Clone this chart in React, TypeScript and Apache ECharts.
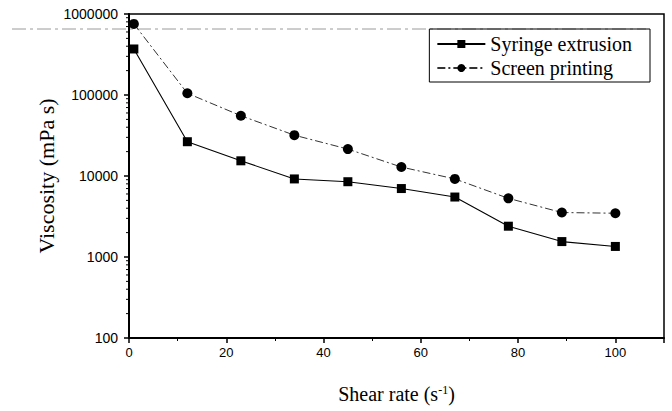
import React, { useEffect, useRef } from "react";
import * as echarts from "echarts";

const shearRate = [1, 12, 23, 34, 45, 56, 67, 78, 89, 100];
const syringeExtrusion = [370000, 26500, 15400, 9200, 8500, 7000, 5500, 2400, 1550, 1350];
const screenPrinting = [755000, 105000, 55500, 31900, 21500, 12900, 9200, 5300, 3540, 3470];
const yMinorTicks = [
  200, 300, 400, 500, 600, 700, 800, 900,
  2000, 3000, 4000, 5000, 6000, 7000, 8000, 9000,
  20000, 30000, 40000, 50000, 60000, 70000, 80000, 90000,
  200000, 300000, 400000, 500000, 600000, 700000, 800000, 900000,
];
const seriesNames = ["Syringe extrusion", "Screen printing"];

export default function App() {
  const ref = useRef<HTMLDivElement>(null);
  useEffect(() => {
    if (!ref.current) return;
    const chart = echarts.init(ref.current, null, { renderer: "svg" });
    const serif = "'Liberation Serif', serif";
    const sans = "'Liberation Sans', Arial, sans-serif";
    chart.setOption({
      animation: false,
      backgroundColor: "#fff",
      textStyle: { fontFamily: serif, color: "#000" },
      grid: {
        left: 129,
        right: 8,
        top: 14,
        bottom: 69,
        show: true,
        borderColor: "#000",
        borderWidth: 1.5,
      },
      legend: {
        data: seriesNames,
        right: 22,
        top: 29,
        orient: "vertical",
        itemWidth: 48,
        itemHeight: 10,
        itemGap: 4,
        padding: [5, 18, 4, 7],
        borderColor: "#000",
        borderWidth: 1,
        textStyle: { fontFamily: serif, fontSize: 20, color: "#000" },
      },
      xAxis: {
        type: "value",
        min: 0,
        max: 110,
        interval: 20,
        name: "Shear rate (s{sup|-1})",
        nameLocation: "middle",
        nameGap: 46,
        nameMoveOverlap: false,
        nameTextStyle: {
          fontFamily: serif,
          fontSize: 20,
          color: "#000",
          rich: {
            sup: { fontFamily: serif, fontSize: 12, verticalAlign: "top", lineHeight: 20, padding: [0, 0, 10, 0] },
          },
        },
        axisLine: { lineStyle: { color: "#000", width: 2 } },
        axisTick: { inside: false, length: 5, lineStyle: { color: "#000", width: 1.5 } },
        minorTick: { show: true, splitNumber: 2, length: 3, lineStyle: { color: "#000", width: 1 } },
        splitLine: { show: false },
        axisLabel: {
          fontFamily: sans,
          fontSize: 13,
          color: "#000",
          margin: 8,
          formatter: (v: number) => (v > 100 ? "" : String(v)),
        },
      },
      yAxis: {
        type: "log",
        logBase: 10,
        min: 100,
        max: 1000000,
        name: "Viscosity (mPa s)",
        nameLocation: "middle",
        nameGap: 72,
        nameMoveOverlap: false,
        nameTextStyle: { fontFamily: serif, fontSize: 22, color: "#000" },
        axisLine: { lineStyle: { color: "#000", width: 2 } },
        axisTick: { inside: false, length: 5, lineStyle: { color: "#000", width: 1.5 } },
        splitLine: { show: false },
        axisLabel: {
          fontFamily: sans,
          fontSize: 14,
          color: "#000",
          margin: 11,
          formatter: (v: number) => String(Math.round(v)),
        },
      },
      graphic: [
        {
          type: "line",
          shape: { x1: 12, y1: 29, x2: 646, y2: 29 },
          style: { stroke: "#9a9a9a", lineWidth: 1, lineDash: [14, 4, 3, 4] },
          silent: true,
          z: 0,
        },
      ],
      series: [
        {
          name: seriesNames[0],
          type: "line",
          data: shearRate.map((x, i) => [x, syringeExtrusion[i]]),
          symbol: "rect",
          symbolSize: 9,
          itemStyle: { color: "#000" },
          lineStyle: { color: "#000", width: 1.1 },
          z: 3,
        },
        {
          name: seriesNames[1],
          type: "line",
          data: shearRate.map((x, i) => [x, screenPrinting[i]]),
          symbol: "circle",
          symbolSize: 10,
          itemStyle: { color: "#000" },
          lineStyle: { color: "#333", width: 1, type: [8, 3, 2, 3] },
          z: 3,
        },
        {
          name: "minorTicks",
          type: "custom",
          clip: false,
          silent: true,
          data: yMinorTicks.map((v) => [0, v]),
          renderItem: (params: any, api: any) => {
            const p = api.coord([0, api.value(1)]);
            return {
              type: "line",
              shape: { x1: p[0] - 3, y1: p[1], x2: p[0], y2: p[1] },
              style: { stroke: "#000", lineWidth: 1 },
            };
          },
        },
      ],
    });
    return () => chart.dispose();
  }, []);
  return <div ref={ref} style={{ width: 672, height: 411, position: "absolute", left: 0, top: 0 }} />;
}
